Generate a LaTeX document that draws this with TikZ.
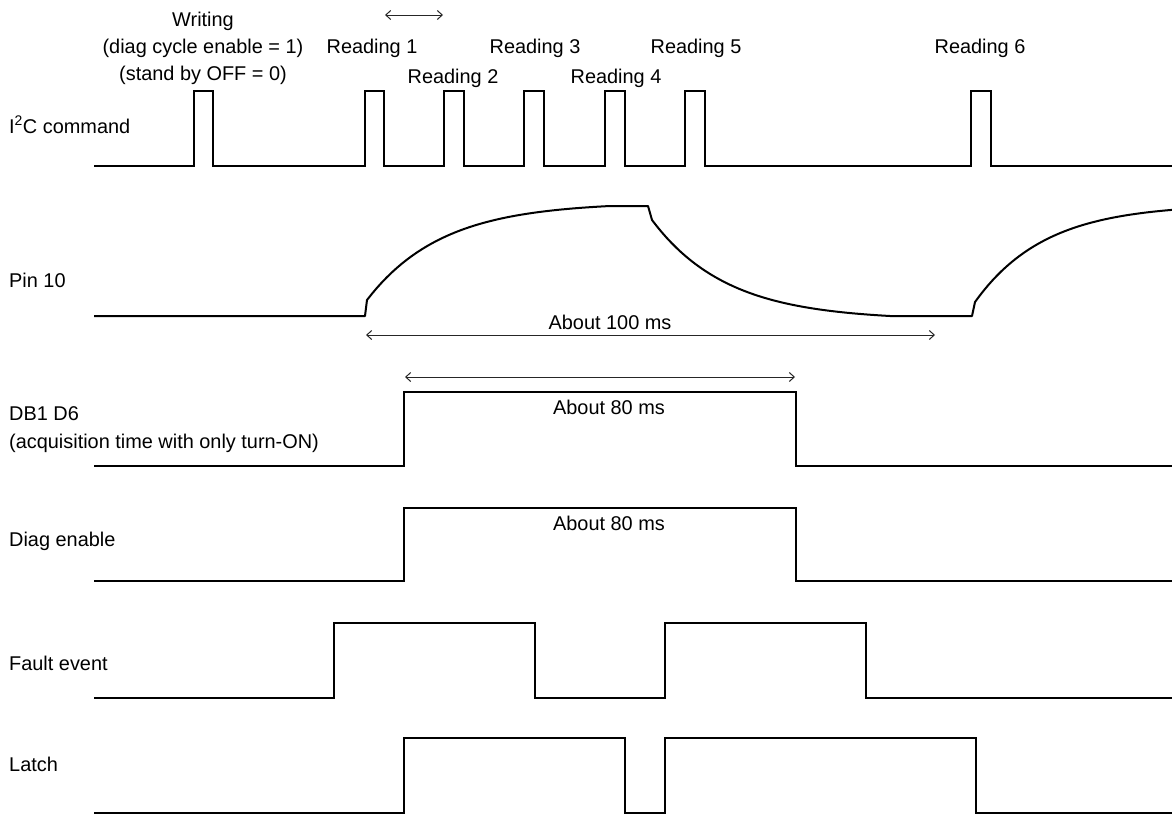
\documentclass[tikz,border=0pt]{standalone}
\usepackage{fontspec}
\setmainfont{Liberation Sans}
\usetikzlibrary{arrows.meta}
\begin{document}
\begin{tikzpicture}[x=1pt,y=-1pt,
  lbl/.style={anchor=base west, inner sep=0pt, font=\fontsize{19.9}{23}\selectfont},
  ctr/.style={anchor=base, inner sep=0pt, font=\fontsize{19.9}{23}\selectfont},
  sig/.style={line width=2pt, line join=miter, black},
  dimline/.style={line width=1pt, black!85, {Straight Barb[length=5pt,width=9pt]}-{Straight Barb[length=5pt,width=9pt]}}]
\useasboundingbox (0,0) rectangle (1172,817);

% left labels
\node[lbl] (li2c) at (9,133) {I\textsuperscript{2}C command};
\node[lbl] (lpin) at (9,287) {Pin 10};
\node[lbl] (ldb1) at (9,420) {DB1 D6};
\node[lbl] (ldb1b) at (9,448) {(acquisition time with only turn-ON)};
\node[lbl] (ldiag) at (9,546) {Diag enable};
\node[lbl] (lfault) at (9,670) {Fault event};
\node[lbl] (llatch) at (9,771) {Latch};

% top labels
\node[ctr] (wr1) at (203,26) {Writing};
\node[ctr] (wr2) at (203,53) {(diag cycle enable = 1)};
\node[ctr] (wr3) at (203,80) {(stand by OFF = 0)};
\node[ctr] (r1) at (372,53) {Reading 1};
\node[ctr] (r2) at (453,83) {Reading 2};
\node[ctr] (r3) at (535,53) {Reading 3};
\node[ctr] (r4) at (616,83) {Reading 4};
\node[ctr] (r5) at (696,53) {Reading 5};
\node[ctr] (r6) at (980,53) {Reading 6};

% I2C command
\draw[sig] (94,166) -| (194,91) -| (213,166) -| (365,91) -| (384,166)
  -| (444,91) -| (464,166) -| (524,91) -| (544,166) -| (605,91) -| (625,166)
  -| (685,91) -| (705,166) -| (971,91) -| (991,166) -- (1172,166);

% top interval arrow
\coordinate (ta1) at (385,15);
\coordinate (ta2) at (443,15);
\draw[dimline] (ta1) -- (ta2);

% Pin 10
\draw[sig, line join=round] (94,316) -- (365,316) -- (367,300)
  -- plot[domain=367:610, samples=50] (\x, {206+94*(exp(-(\x-367)/75)-exp(-243/75))/(1-exp(-243/75))})
  -- (648,206) -- (652,220)
  -- plot[domain=652:890, samples=50] (\x, {316-96*(exp(-(\x-652)/75)-exp(-238/75))/(1-exp(-238/75))})
  -- (972,316) -- (975,302)
  -- plot[domain=975:1172, samples=45] (\x, {204+98*exp(-(\x-975)/70)});

\coordinate (a100l) at (366,335);
\coordinate (a100r) at (935,335);
\draw[dimline] (a100l) -- (a100r);
\node[ctr] (t100) at (610,329) {About 100 ms};

% DB1 D6
\coordinate (a80l) at (405,377);
\coordinate (a80r) at (795,377);
\draw[dimline] (a80l) -- (a80r);
\draw[sig] (94,466) -| (404,392) -| (796,466) -- (1172,466);
\node[ctr] (t80a) at (609,414) {About 80 ms};

% Diag enable
\draw[sig] (94,581) -| (404,508) -| (796,581) -- (1172,581);
\node[ctr] (t80b) at (609,530) {About 80 ms};

% Fault event
\draw[sig] (94,698) -| (334,623) -| (535,698) -| (665,623) -| (866,698) -- (1172,698);

% Latch
\draw[sig] (94,813) -| (404,738) -| (625,813) -| (665,738) -| (976,813) -- (1172,813);
\end{tikzpicture}
\end{document}
